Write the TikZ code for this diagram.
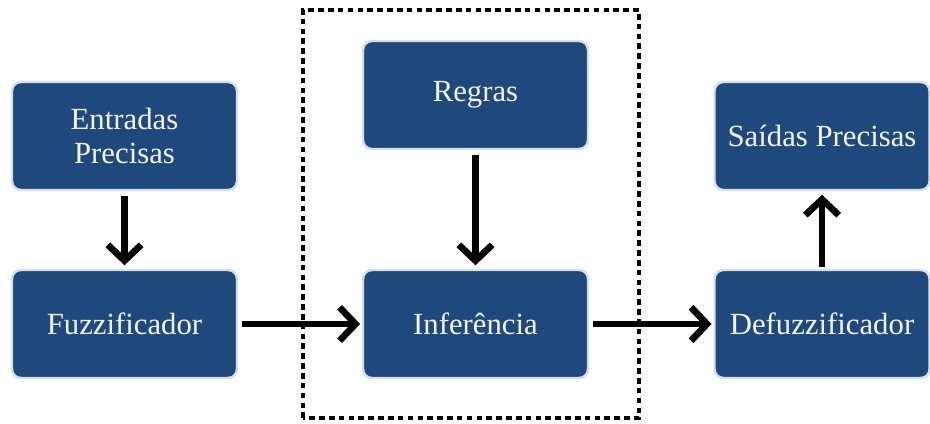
\documentclass[tikz,border=0pt]{standalone}
\usepackage{fontspec}
\setmainfont{Liberation Serif}
\usepackage{tikz}
\usetikzlibrary{arrows.meta,positioning}
\usepackage{xcolor}
\definecolor{navy}   {HTML}{1F497D}
\definecolor{rim}    {HTML}{D5E0EC}
\definecolor{paper}  {HTML}{F4F4F4}
\definecolor{ink}    {HTML}{000000}

\begin{document}
\begin{tikzpicture}[
    box/.style={fill=navy, draw=rim, line width=1.4pt, rounded corners=5pt,
      minimum width=4.5cm, minimum height=2.16cm, align=center,
      text=paper, font=\fontsize{17.5}{19}\selectfont},
    flow/.style={draw=ink, line width=3.8pt,
      -{Straight Barb[length=9pt,width=19pt,line width=3.8pt]}}
  ]
        \useasboundingbox (0,0) rectangle (18.6,8.46);
        % inference block
        \draw[ink, line width=2.8pt, dash pattern=on 3.2pt off 2.4pt]
          (6.06,0.1) rectangle (12.78,8.26);
        % boxes
        \node[box] (entradas) at (2.49,5.74) {Entradas\\Precisas};
        \node[box] (fuzz)     at (2.49,1.98) {Fuzzificador};
        \node[box] (regras)   at (9.51,6.56) {Regras};
        \node[box] (infer)    at (9.51,1.98) {Inferência};
        \node[box, minimum width=4.3cm] (defuzz) at (16.44,1.98) {Defuzzificador};
        \node[box, minimum width=4.3cm] (saidas) at (16.44,5.74) {Saídas Precisas};
        % arrows
        \draw[flow, shorten <=3pt, shorten >=2pt] (entradas) -- (fuzz);
        \draw[flow, shorten <=3pt, shorten >=2pt] (regras) -- (infer);
        \draw[flow, shorten <=2pt, shorten >=1pt] (fuzz) -- (infer);
        \draw[flow, shorten <=2pt, shorten >=1pt] (infer) -- (defuzz);
        \draw[flow, shorten <=1pt, shorten >=2pt] (defuzz) -- (saidas);
      \end{tikzpicture}
\end{document}
